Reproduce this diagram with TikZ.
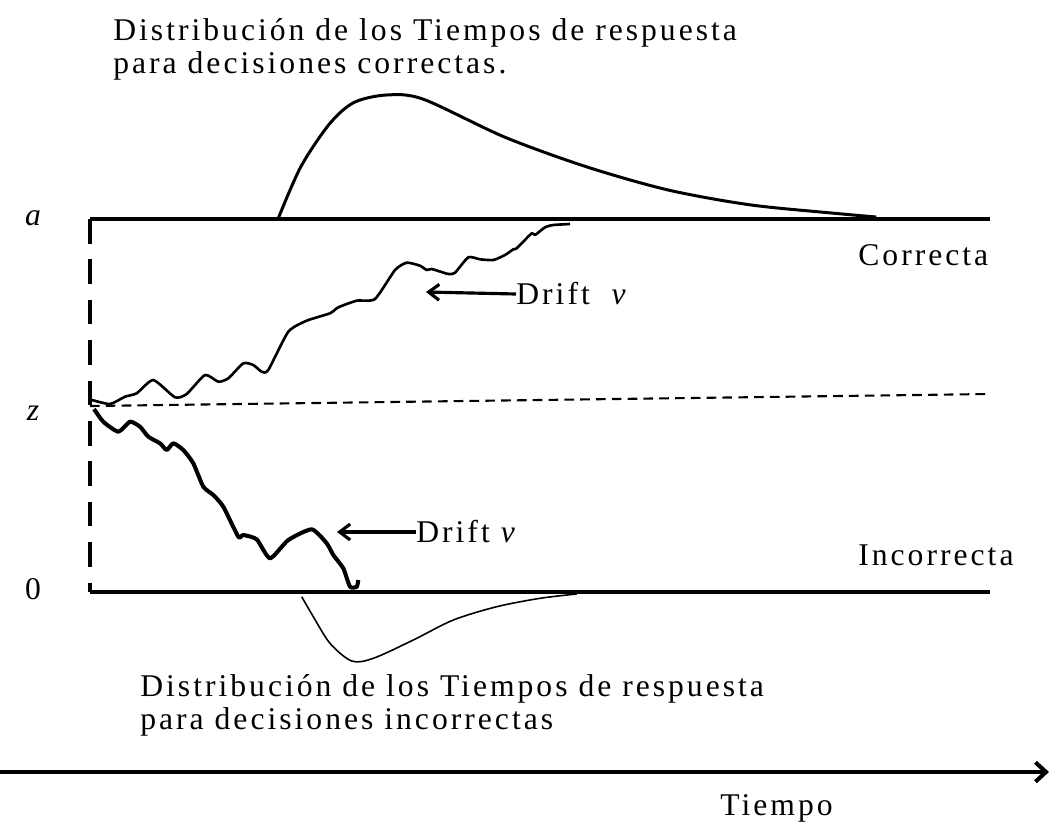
\documentclass[tikz,border=0pt]{standalone}
\usepackage{fontspec}
\setmainfont{Liberation Serif}[LetterSpace=9.5]
\usetikzlibrary{arrows.meta}
\begin{document}
\begin{tikzpicture}[x=0.02cm,y=-0.02cm,
  bound/.style={line width=2.4pt},
  walkup/.style={line width=1.5pt,line join=round},
  walkdown/.style={line width=2.3pt,line join=round},
  lbl/.style={inner sep=0pt,font=\fontsize{18}{19}\selectfont},
  txt/.style={inner sep=0pt,align=left,font=\fontsize{18}{19}\selectfont},
  drift/.style={line width=1.8pt,-{Straight Barb[length=6pt,width=9pt]}}]
\useasboundingbox (0,0) rectangle (1050,829);
% boundaries
\coordinate (aL) at (90,219);
\coordinate (aR) at (990,219);
\coordinate (oL) at (90,592);
\coordinate (oR) at (990,592);
\coordinate (zL) at (90,406);
\coordinate (zR) at (990,394);
\draw[bound] (aL) -- (aR);
\draw[bound] (oL) -- (oR);
\draw[line width=2.2pt,dash pattern=on 14pt off 9pt] (aL) -- (oL);
\draw[line width=1.2pt,dash pattern=on 5.5pt off 3.5pt] (zL) -- (zR);
% labels
\node[lbl,font=\fontsize{18}{19}\selectfont\itshape] (la) at (33,218) {a};
\node[lbl,font=\fontsize{18}{19}\selectfont\itshape] (lz) at (33,413) {z};
\node[lbl] (l0) at (33,589) {0};
\node[lbl,anchor=west] (corr) at (858,255) {Correcta};
\node[lbl,anchor=west] (inc) at (858,555) {Incorrecta};
% upper walk
\draw[walkup] plot[smooth,tension=0.35] coordinates {(92,400) (110,404) (125,396.7) (136.7,393.3) (153.3,380) (175,397.3) (186.7,394) (205,375) (218.3,381.7) (228.3,378.3) (243.3,363.3) (253.3,365) (261.7,371.7) (268.3,370) (288.3,331.7) (306.7,320.7) (330,313.3) (338.3,307.3) (356.7,300.7) (375,299) (395,270) (406.7,262.7) (420,265.7) (426.7,270) (431.7,269) (448.3,274) (455,272.7) (468.3,257.3) (480,259.3) (493.3,260) (505,255) (513.3,249.3) (516.7,248.3) (531.7,233.3) (535,235) (545,227.3) (553.3,225) (570,224)};
% lower walk
\draw[walkdown] plot[smooth,tension=0.35] coordinates {(94,409) (103.3,421.7) (118.3,431.7) (130,421.7) (140,426.7) (148.3,436.7) (160,443.3) (166.7,450) (173.3,443.3) (183.3,450) (193.3,463.3) (203.3,486.7) (213.3,495) (223.3,506.7) (238.3,536.7) (243.3,535) (256.7,539.3) (270,558.3) (288.3,540) (311.7,529.3) (326.7,543.3) (333.3,555) (343.3,568.3) (350,586.7) (356.7,586.7) (358.3,580)};
% drift arrows
\node[lbl,anchor=west] (d1) at (516,294) {Drift\ \ \textit{v}};
\coordinate (t1) at (426,292);
\draw[drift] (d1.west) -- (t1);
\node[lbl,anchor=west] (d2) at (416,532) {Drift \textit{v}};
\coordinate (t2) at (337,532);
\draw[drift] (d2.west) -- (t2);
% distributions
\draw[line width=1.7pt] plot[smooth,tension=0.5] coordinates {(278.4,218) (300.8,166.8) (329.4,124) (353.9,102.5) (386.5,95) (423.3,99.2) (504.9,137.2) (586.5,166.8) (668.2,190) (749.8,204.8) (831.4,213) (876.3,217)};
\draw[line width=0.9pt] plot[smooth,tension=0.5] coordinates {(301.7,596.7) (313.3,616.7) (330,643.3) (351.7,661) (373.3,658.3) (413.3,640) (453.3,620) (496.7,606.7) (540,598.3) (576.7,594)};
% titles
\node[txt,anchor=north west] (top) at (113,18) {Distribución de los Tiempos de respuesta\\para decisiones correctas.};
\node[txt,anchor=north west] (bot) at (140,674) {Distribución de los Tiempos de respuesta\\para decisiones incorrectas};
% time axis
\coordinate (ax0) at (0,772);
\coordinate (ax1) at (1049,772);
\draw[line width=2.3pt,-{Straight Barb[length=6pt,width=11pt]}] (ax0) -- (ax1);
\node[lbl,anchor=west] (tiempo) at (720,808) {Tiempo};
\end{tikzpicture}
\end{document}
